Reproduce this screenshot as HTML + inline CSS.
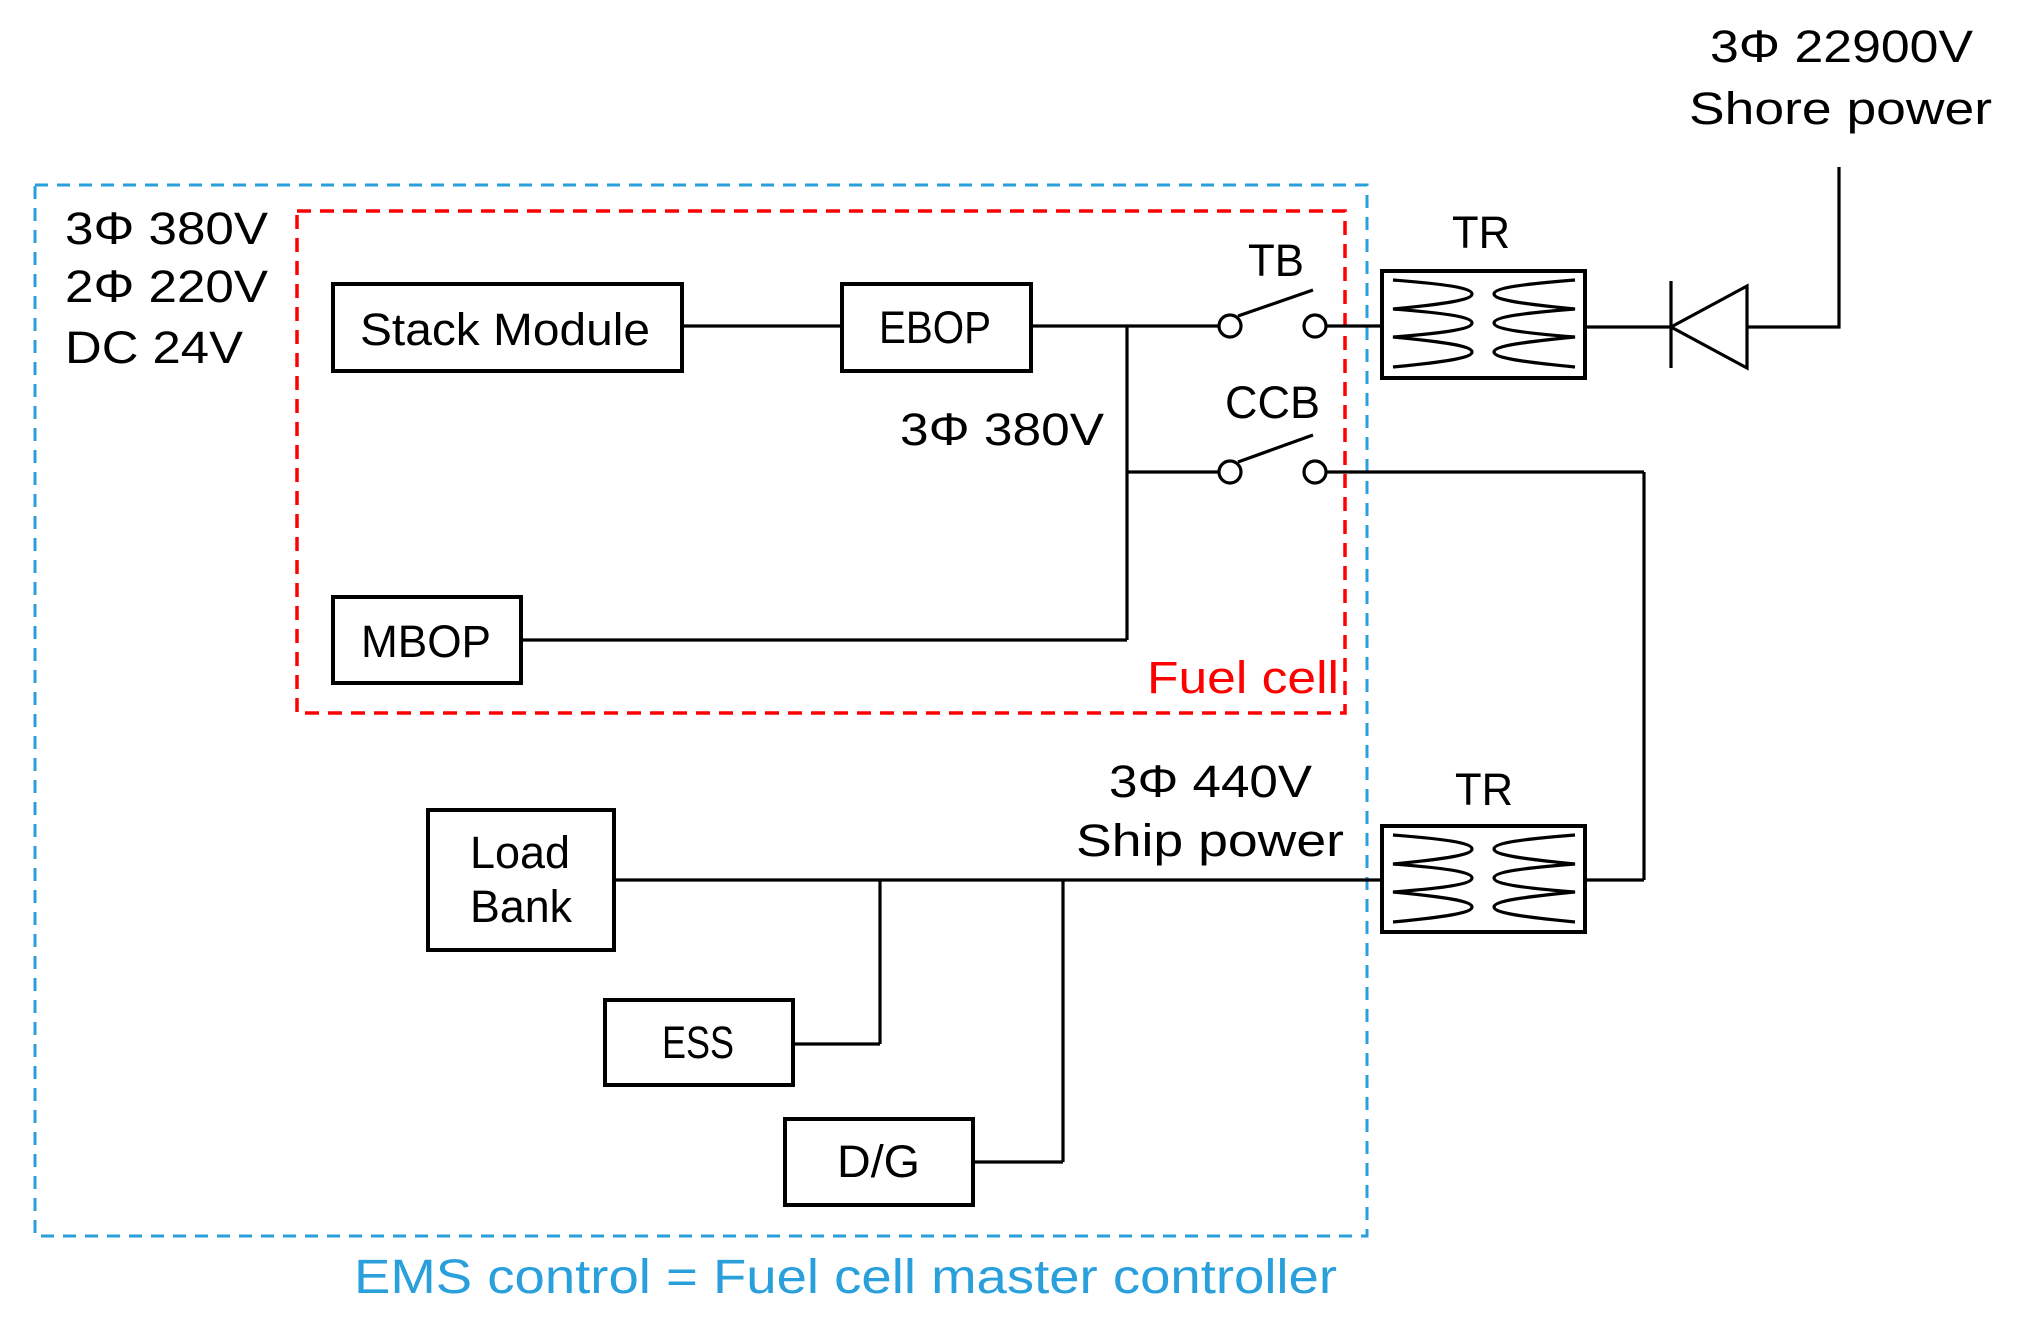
<!DOCTYPE html>
<html><head><meta charset="utf-8"><style>html,body{margin:0;padding:0;background:#fff}svg{display:block}</style></head>
<body>
<svg width="2020" height="1325" viewBox="0 0 2020 1325" xmlns="http://www.w3.org/2000/svg" font-family="Liberation Sans, sans-serif" font-size="45">
<rect x="35" y="185" width="1332" height="1051" fill="none" stroke="#29a0dc" stroke-width="3" stroke-dasharray="13,9"/>
<rect x="297" y="211" width="1048" height="502" fill="none" stroke="#ff0000" stroke-width="3.5" stroke-dasharray="14,9"/>
<g fill="none" stroke="#000" stroke-width="4">
<rect x="333" y="284" width="349" height="87"/>
<rect x="842" y="284" width="189" height="87"/>
<rect x="333" y="597" width="188" height="86"/>
<rect x="428" y="810" width="186" height="140"/>
<rect x="605" y="1000" width="188" height="85"/>
<rect x="785" y="1119" width="188" height="86"/>
<rect x="1382" y="271" width="203" height="107"/>
<rect x="1382" y="826" width="203" height="106"/>
</g>
<g fill="none" stroke="#000" stroke-width="3.2">
<line x1="682" y1="326" x2="842" y2="326"/>
<line x1="1031" y1="326" x2="1218" y2="326"/>
<line x1="1127" y1="326" x2="1127" y2="640"/>
<line x1="521" y1="640" x2="1127" y2="640"/>
<line x1="1127" y1="472" x2="1218" y2="472"/>
<line x1="1327" y1="326" x2="1382" y2="326"/>
<line x1="1327" y1="472" x2="1644" y2="472"/>
<line x1="1644" y1="472" x2="1644" y2="880"/>
<line x1="1585" y1="880" x2="1644" y2="880"/>
<line x1="1585" y1="327" x2="1671" y2="327"/>
<line x1="1671" y1="281" x2="1671" y2="368"/>
<polygon points="1671,327 1747,286 1747,368"/>
<polyline points="1747,327 1839,327 1839,167"/>
<line x1="614" y1="880" x2="1382" y2="880"/>
<line x1="880" y1="880" x2="880" y2="1044"/>
<line x1="793" y1="1044" x2="880" y2="1044"/>
<line x1="1063" y1="880" x2="1063" y2="1162"/>
<line x1="973" y1="1162" x2="1063" y2="1162"/>
<circle cx="1230" cy="326" r="11" fill="#fff"/>
<circle cx="1315" cy="326" r="11" fill="#fff"/>
<line x1="1238" y1="316" x2="1313" y2="290"/>
<circle cx="1230" cy="472" r="11" fill="#fff"/>
<circle cx="1315" cy="472" r="11" fill="#fff"/>
<line x1="1238" y1="462" x2="1313" y2="435"/>
</g>
<g fill="none" stroke="#000" stroke-width="3.2">
<path d="M1393 280 C1445 284 1472 288 1472 294 C1472 300 1445 304 1393 309 C1445 313 1472 317 1472 323 C1472 329 1445 333 1393 337 C1445 342 1472 346 1472 352 C1472 358 1445 362 1393 367"/>
<path d="M1575 280 C1523 284 1494 288 1494 294 C1494 300 1523 304 1575 309 C1523 313 1494 317 1494 323 C1494 329 1523 333 1575 337 C1523 342 1494 346 1494 352 C1494 358 1523 362 1575 367"/>
<path d="M1393 835 C1445 839 1472 843 1472 849 C1472 855 1445 859 1393 864 C1445 868 1472 872 1472 878 C1472 884 1445 888 1393 892 C1445 897 1472 901 1472 907 C1472 913 1445 917 1393 922"/>
<path d="M1575 835 C1523 839 1494 843 1494 849 C1494 855 1523 859 1575 864 C1523 868 1494 872 1494 878 C1494 884 1523 888 1575 892 C1523 897 1494 901 1494 907 C1494 913 1523 917 1575 922"/>
</g>
<g fill="#000">
<text x="65" y="244" textLength="203" lengthAdjust="spacingAndGlyphs">3Φ 380V</text>
<text x="65" y="302" textLength="203" lengthAdjust="spacingAndGlyphs">2Φ 220V</text>
<text x="65" y="363" textLength="178" lengthAdjust="spacingAndGlyphs">DC 24V</text>
<text x="360" y="345" textLength="290" lengthAdjust="spacingAndGlyphs">Stack Module</text>
<text x="879" y="343" textLength="112" lengthAdjust="spacingAndGlyphs">EBOP</text>
<text x="361" y="657" textLength="130" lengthAdjust="spacingAndGlyphs">MBOP</text>
<text x="900" y="445" textLength="204" lengthAdjust="spacingAndGlyphs">3Φ 380V</text>
<text x="1248" y="276" textLength="56" lengthAdjust="spacingAndGlyphs">TB</text>
<text x="1225" y="418" textLength="95" lengthAdjust="spacingAndGlyphs">CCB</text>
<text x="1452" y="248" textLength="58" lengthAdjust="spacingAndGlyphs">TR</text>
<text x="1455" y="805" textLength="58" lengthAdjust="spacingAndGlyphs">TR</text>
<text x="1710" y="62" textLength="263" lengthAdjust="spacingAndGlyphs">3Φ 22900V</text>
<text x="1689" y="124" textLength="303" lengthAdjust="spacingAndGlyphs">Shore power</text>
<text x="1109" y="797" textLength="203" lengthAdjust="spacingAndGlyphs">3Φ 440V</text>
<text x="1076" y="856" textLength="268" lengthAdjust="spacingAndGlyphs">Ship power</text>
<text x="470" y="868" textLength="100" lengthAdjust="spacingAndGlyphs">Load</text>
<text x="470" y="922" textLength="102" lengthAdjust="spacingAndGlyphs">Bank</text>
<text x="662" y="1058" textLength="72" lengthAdjust="spacingAndGlyphs">ESS</text>
<text x="837" y="1177" textLength="83" lengthAdjust="spacingAndGlyphs">D/G</text>
</g>
<text x="1147" y="693" fill="#ff0000" textLength="192" lengthAdjust="spacingAndGlyphs">Fuel cell</text>
<text x="354" y="1293" fill="#29a0dc" font-size="48" textLength="983" lengthAdjust="spacingAndGlyphs">EMS control = Fuel cell master controller</text>
</svg>
</body></html>
